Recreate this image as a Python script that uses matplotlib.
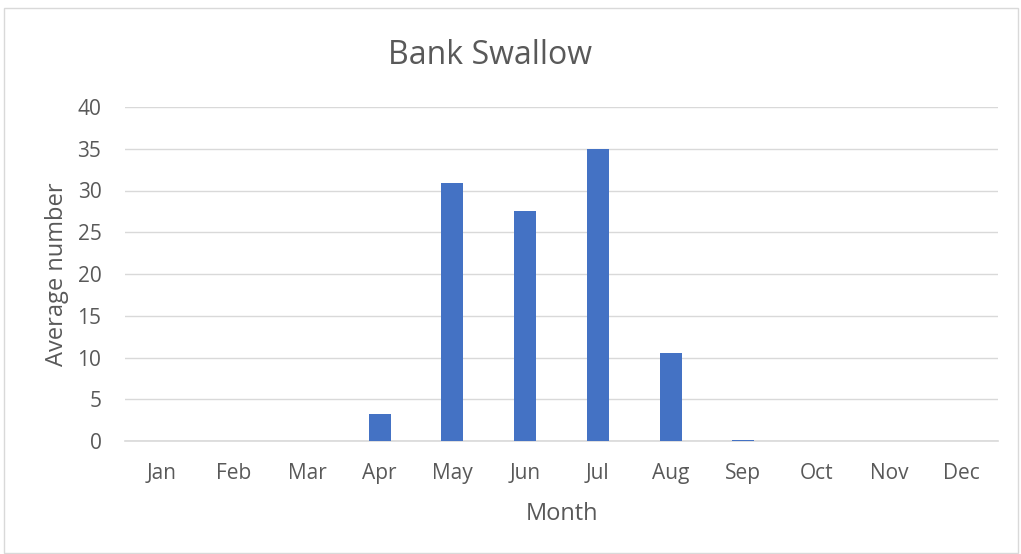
import matplotlib.pyplot as plt
from matplotlib.patches import Rectangle

plt.rcParams['font.family'] = ['Open Sans', 'DejaVu Sans']

months = ["Jan", "Feb", "Mar", "Apr", "May", "Jun",
          "Jul", "Aug", "Sep", "Oct", "Nov", "Dec"]
avg_number = [0, 0, 0, 3.2, 30.9, 27.5, 35.0, 10.5, 0.15, 0, 0, 0]
y_ticks = [0, 5, 10, 15, 20, 25, 30, 35, 40]

TEXT = "#595959"
GRID = "#d9d9d9"
BAR = "#4472C4"

fig = plt.figure(figsize=(10.21, 5.54), dpi=100)
ax = fig.add_axes([125 / 1021, 1 - 441 / 554, 873 / 1021, 334 / 554])

x = range(len(months))
ax.bar(x, avg_number, width=0.3, color=BAR, zorder=3)

ax.set_xlim(-0.5, len(months) - 0.5)
ax.set_ylim(0, 40)
ax.set_yticks(y_ticks)
ax.set_xticks(list(x))
ax.set_xticklabels(months)
ax.tick_params(axis="both", length=0, colors=TEXT, labelsize=15)
ax.tick_params(axis="x", pad=16)
ax.tick_params(axis="y", pad=17)

ax.grid(True, axis="y", color=GRID, linewidth=1, zorder=0)
ax.axhline(0, color=GRID, linewidth=1.2, zorder=1, clip_on=False)
for spine in ax.spines.values():
    spine.set_visible(False)

ax.set_xlabel("Month", fontsize=17, color=TEXT, labelpad=13)
ax.set_ylabel("Average number", fontsize=17, color=TEXT, labelpad=6)
fig.text(490 / 1021, 1 - 55 / 554, "Bank Swallow", fontsize=23,
         color=TEXT, ha="center", va="center")

# outer chart border
fig.patches.append(Rectangle((4 / 1021, 1 / 554), 1014 / 1021, 545 / 554,
                             transform=fig.transFigure, fill=False,
                             edgecolor=GRID, linewidth=1))

fig.savefig("out.png", dpi=100)
